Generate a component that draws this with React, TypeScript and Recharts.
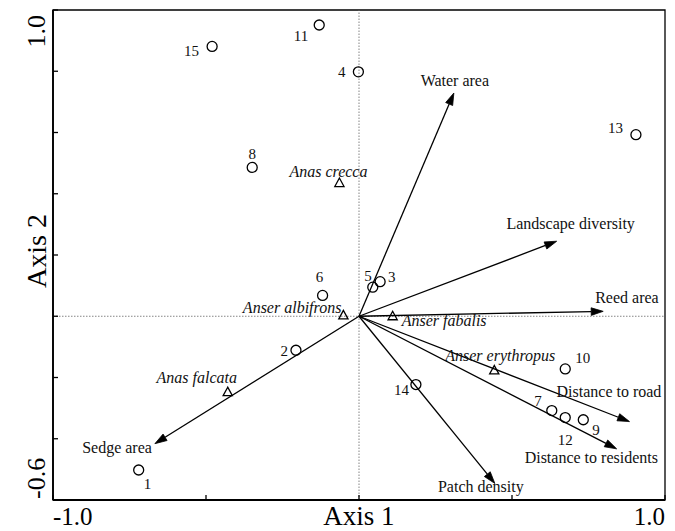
import { ReferenceArea, ReferenceLine, Scatter, ScatterChart, XAxis, YAxis } from "recharts"

// sample sites (circles)
const siteIds = ["1", "2", "3", "4", "5", "6", "7", "8", "9", "10", "11", "12", "13", "14", "15"]
const siteAxis1 = [-0.72, -0.206, 0.069, -0.002, 0.045, -0.119, 0.63, -0.349, 0.733, 0.674, -0.13, 0.674, 0.905, 0.186, -0.48]
const siteAxis2 = [-0.502, -0.111, 0.113, 0.798, 0.095, 0.068, -0.308, 0.486, -0.338, -0.172, 0.951, -0.331, 0.593, -0.223, 0.881]

// bird species (triangles)
const speciesNames = ["Anas crecca", "Anser albifrons", "Anser fabalis", "Anser erythropus", "Anas falcata"]
const speciesAxis1 = [-0.064, -0.051, 0.11, 0.442, -0.429]
const speciesAxis2 = [0.435, 0.003, 0.0, -0.177, -0.248]

// environmental vectors (arrows)
const envNames = [
  "Water area",
  "Landscape diversity",
  "Reed area",
  "Distance to road",
  "Distance to residents",
  "Patch density",
  "Sedge area",
]
const envAxis1 = [0.31, 0.646, 0.798, 0.884, 0.842, 0.444, -0.667]
const envAxis2 = [0.729, 0.245, 0.016, -0.344, -0.433, -0.546, -0.416]

const xTicks = [-1, -0.5, 0, 0.5, 1]
const yTicks = [-0.6, -0.4, -0.2, 0, 0.2, 0.4, 0.6, 0.8, 1]

const FONT = '"Liberation Serif", "Times New Roman", serif'

type Anchor = "start" | "middle" | "end"
type LabelPos = [number, number, Anchor]

// label offsets from the mark, in pixels
const siteLabelPos: Record<string, LabelPos> = {
  "1": [5, 19, "start"],
  "2": [-8, 6, "end"],
  "3": [8, 0, "start"],
  "4": [-13, 5, "end"],
  "5": [-1, -6, "end"],
  "6": [-3, -13, "middle"],
  "7": [-10, -5, "end"],
  "8": [0, -8, "middle"],
  "9": [9, 15, "start"],
  "10": [10, -6, "start"],
  "11": [-11, 16, "end"],
  "12": [0, 27, "middle"],
  "13": [-13, -2, "end"],
  "14": [-7, 10, "end"],
  "15": [-13, 10, "end"],
}
const speciesLabelPos: Record<string, LabelPos> = {
  "Anas crecca": [-11, -6, "middle"],
  "Anser albifrons": [-2, -2, "end"],
  "Anser fabalis": [9, 10, "start"],
  "Anser erythropus": [6, -9, "middle"],
  "Anas falcata": [-31, -9, "middle"],
}
const envLabelPos: Record<string, LabelPos> = {
  "Water area": [1, -7, "middle"],
  "Landscape diversity": [14, -12, "middle"],
  "Reed area": [-8, -8, "start"],
  "Distance to road": [-73, -25, "start"],
  "Distance to residents": [-92, 14, "start"],
  "Patch density": [-14, 9, "middle"],
  "Sedge area": [-3, 9, "end"],
}

const sites = siteIds.map((name, i) => ({ name, x: siteAxis1[i], y: siteAxis2[i] }))
const species = speciesNames.map((name, i) => ({ name, x: speciesAxis1[i], y: speciesAxis2[i] }))
const vectors = envNames.map((name, i) => [
  { x: 0, y: 0 },
  { name, x: envAxis1[i], y: envAxis2[i] },
])

const near = (a: number, b: number) => Math.abs(a - b) < 1e-6

function XTick({ x, y, payload }: any) {
  const v = payload.value
  const style = { fontFamily: FONT, fill: "#000" }
  let label = null
  if (near(v, -1))
    label = <text x={x} y={y + 25} textAnchor="start" fontSize={25} style={style}>-1.0</text>
  else if (near(v, 1))
    label = <text x={x} y={y + 25} textAnchor="end" fontSize={25} style={style}>1.0</text>
  else if (near(v, 0))
    label = <text x={x} y={y + 25} textAnchor="middle" fontSize={27} style={style}>Axis 1</text>
  return (
    <g>
      <line x1={x} x2={x} y1={y} y2={y - 5} stroke="#000" strokeWidth={1.3} />
      {label}
    </g>
  )
}

function YTick({ x, y, payload }: any) {
  const v = payload.value
  const style = { fontFamily: FONT, fill: "#000" }
  let label = null
  if (near(v, 1))
    label = (
      <text x={x - 8} y={y + 5} transform={`rotate(-90, ${x - 8}, ${y + 5})`} textAnchor="end" fontSize={26} style={style}>
        1.0
      </text>
    )
  else if (near(v, -0.6))
    label = (
      <text x={x - 8} y={y - 1} transform={`rotate(-90, ${x - 8}, ${y - 1})`} textAnchor="start" fontSize={26} style={style}>
        -0.6
      </text>
    )
  else if (near(v, 0.2))
    label = (
      <text x={x - 7} y={y - 4} transform={`rotate(-90, ${x - 7}, ${y - 4})`} textAnchor="middle" fontSize={28} style={style}>
        Axis 2
      </text>
    )
  return (
    <g>
      <line x1={x} x2={x + 5} y1={y} y2={y} stroke="#000" strokeWidth={1.3} />
      {label}
    </g>
  )
}

function markLabel(cx: number, cy: number, text: string, pos: LabelPos | undefined, size: number, italic = false) {
  const [dx, dy, anchor] = pos ?? [0, -8, "middle"]
  return (
    <text
      x={cx + dx}
      y={cy + dy}
      textAnchor={anchor}
      fontSize={size}
      fontStyle={italic ? "italic" : "normal"}
      style={{ fontFamily: FONT, fill: "#111" }}
    >
      {text}
    </text>
  )
}

function SiteShape(p: any) {
  const name = p.payload?.name
  return (
    <g>
      <circle cx={p.cx} cy={p.cy} r={5} fill="none" stroke="#000" strokeWidth={1.3} />
      {markLabel(p.cx, p.cy, name, siteLabelPos[name], 15)}
    </g>
  )
}

function SpeciesShape(p: any) {
  const name = p.payload?.name
  const { cx, cy } = p
  return (
    <g>
      <polygon
        points={`${cx},${cy - 5} ${cx - 4.6},${cy + 3.5} ${cx + 4.6},${cy + 3.5}`}
        fill="none"
        stroke="#000"
        strokeWidth={1.3}
      />
      {markLabel(cx, cy, name, speciesLabelPos[name], 16, true)}
    </g>
  )
}

function VectorTip(p: any) {
  const name = p.payload?.name
  if (!name) return <g />
  return <g>{markLabel(p.cx, p.cy, name, envLabelPos[name], 16)}</g>
}

function ArrowLine(lp: any) {
  const pts = lp.points
  if (!pts || pts.length < 2) return <g />
  const a = pts[0]
  const b = pts[pts.length - 1]
  const ang = Math.atan2(b.y - a.y, b.x - a.x)
  const len = 12
  const half = 3.8
  const bx = b.x - len * Math.cos(ang)
  const by = b.y - len * Math.sin(ang)
  const p1 = `${bx + half * Math.sin(ang)},${by - half * Math.cos(ang)}`
  const p2 = `${bx - half * Math.sin(ang)},${by + half * Math.cos(ang)}`
  return (
    <g>
      <line x1={a.x} y1={a.y} x2={bx} y2={by} stroke="#000" strokeWidth={1.3} />
      <polygon points={`${b.x},${b.y} ${p1} ${p2}`} fill="#000" stroke="#000" strokeWidth={0.8} />
    </g>
  )
}

export default function App() {
  return (
    <div style={{ position: "absolute", left: 0, top: 0, width: 675, height: 531, background: "#fff" }}>
      <ScatterChart width={675} height={531} margin={{ top: 10, right: 10, bottom: 0, left: 0 }}>
        <XAxis
          type="number"
          dataKey="x"
          domain={[-1, 1]}
          ticks={xTicks}
          interval={0}
          height={31}
          tickSize={0}
          tickMargin={0}
          tickLine={false}
          axisLine={{ stroke: "#000", strokeWidth: 1.8 }}
          tick={<XTick />}
        />
        <YAxis
          type="number"
          dataKey="y"
          domain={[-0.6, 1]}
          ticks={yTicks}
          interval={0}
          width={53}
          tickSize={0}
          tickMargin={0}
          tickLine={false}
          axisLine={{ stroke: "#000", strokeWidth: 1.8 }}
          tick={<YTick />}
        />
        <ReferenceArea x1={-1} x2={1} y1={-0.6} y2={1} fill="none" fillOpacity={0} stroke="#000" strokeWidth={1.3} />
        <ReferenceLine x={0} stroke="#666" strokeWidth={0.8} strokeDasharray="1.5 1.5" />
        <ReferenceLine y={0} stroke="#666" strokeWidth={0.8} strokeDasharray="1.5 1.5" />
        {vectors.map((v) => (
          <Scatter
            key={v[1].name}
            data={v}
            line={ArrowLine}
            shape={VectorTip}
            isAnimationActive={false}
          />
        ))}
        <Scatter data={sites} shape={SiteShape} isAnimationActive={false} />
        <Scatter data={species} shape={SpeciesShape} isAnimationActive={false} />
      </ScatterChart>
    </div>
  )
}
